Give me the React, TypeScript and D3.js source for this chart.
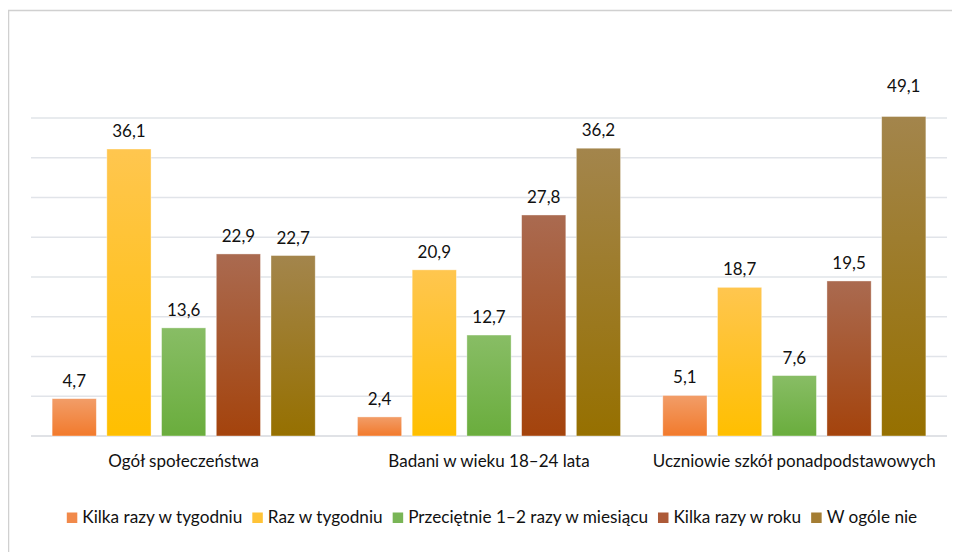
import { useRef, useEffect } from "react";
import * as d3 from "d3";

// categories (groups along x)
const categories = [
  "Ogół społeczeństwa",
  "Badani w wieku 18–24 lata",
  "Uczniowie szkół ponadpodstawowych",
];

// series names (legend order)
const seriesNames = [
  "Kilka razy w tygodniu",
  "Raz w tygodniu",
  "Przeciętnie 1–2 razy w miesiącu",
  "Kilka razy w roku",
  "W ogóle nie",
];

// values per series, one per category
const kilkaRazyTydzien = [4.7, 2.4, 5.1];
const razTydzien = [36.1, 20.9, 18.7];
const miesiac = [13.6, 12.7, 7.6];
const kilkaRazyRok = [22.9, 27.8, 19.5];
const wOgoleNie = [22.7, 36.2, 49.1];

const seriesValues = [kilkaRazyTydzien, razTydzien, miesiac, kilkaRazyRok, wOgoleNie];

// y axis max and gridline ticks
const yMax = 40;
const gridTicks = [0, 5, 10, 15, 20, 25, 30, 35, 40];

// gradient colours: [top, bottom], plus legend swatch
const gradTop = ["#f29d68", "#ffc64f", "#88bd65", "#aa6a50", "#a3854c"];
const gradBottom = ["#f27a2c", "#ffbf00", "#6aad3d", "#a4430c", "#967000"];
const swatch = ["#f1894a", "#ffc337", "#79b556", "#ad5a38", "#a47d33"];

const FONT = "Lato, 'Open Sans', sans-serif";
const INK = "#111";

const Chart: React.FC = () => {
  const svgRef = useRef<SVGSVGElement | null>(null);

  useEffect(() => {
    if (!svgRef.current) return;
    const root = d3.select(svgRef.current);
    root.selectAll("*").remove();

    const plot = { left: 31, right: 947, top: 118, bottom: 436 };

    // outer frame (right and bottom edges run off the picture)
    root
      .append("rect")
      .attr("x", 8.5)
      .attr("y", 10.5)
      .attr("width", 1000)
      .attr("height", 600)
      .attr("fill", "#fff")
      .attr("stroke", "#d0d0d0")
      .attr("stroke-width", 1.5);

    const defs = root.append("defs");
    seriesNames.forEach((_, i) => {
      const g = defs
        .append("linearGradient")
        .attr("id", `grad${i}`)
        .attr("x1", 0)
        .attr("y1", 0)
        .attr("x2", 0)
        .attr("y2", 1);
      g.append("stop").attr("offset", "0%").attr("stop-color", gradTop[i]);
      g.append("stop").attr("offset", "100%").attr("stop-color", gradBottom[i]);
    });

    const x0 = d3
      .scaleBand<string>()
      .domain(categories)
      .range([plot.left, plot.right])
      .padding(0);

    const x1 = d3
      .scaleBand<number>()
      .domain(d3.range(seriesNames.length))
      .range([0, x0.bandwidth()])
      .paddingInner(0.192)
      .paddingOuter(0.386);

    const y = d3
      .scaleLinear()
      .domain([0, yMax])
      .range([plot.bottom, plot.top]);

    // gridlines
    root
      .append("g")
      .selectAll("line")
      .data(gridTicks)
      .join("line")
      .attr("x1", plot.left)
      .attr("x2", plot.right)
      .attr("y1", (d) => y(d))
      .attr("y2", (d) => y(d))
      .attr("stroke", (d) => (d === 0 ? "#d6d9de" : "#e1e4e9"))
      .attr("stroke-width", 1.5);

    // bars
    const groups = root
      .append("g")
      .selectAll("g")
      .data(categories)
      .join("g")
      .attr("transform", (c) => `translate(${x0(c)},0)`);

    groups.each(function (c, ci) {
      const g = d3.select(this);
      seriesValues.forEach((vals, si) => {
        const v = vals[ci];
        const clipped = v > yMax;
        const top = clipped ? y(yMax) - 1.5 : y(v);
        g.append("rect")
          .attr("x", x1(si)!)
          .attr("y", top)
          .attr("width", x1.bandwidth())
          .attr("height", plot.bottom - top)
          .attr("fill", `url(#grad${si})`)
          .attr("stroke", "rgba(255,255,255,0.5)")
          .attr("stroke-width", 0.75);

        g.append("text")
          .attr("x", x1(si)! + x1.bandwidth() / 2)
          .attr("y", clipped ? y(yMax) - 26 : top - 12)
          .attr("text-anchor", "middle")
          .attr("font-family", FONT)
          .attr("font-size", 17)
          .attr("fill", INK)
          .text(d3.format(".1f")(v).replace(".", ","));
      });
    });

    // category labels
    root
      .append("g")
      .selectAll("text")
      .data(categories)
      .join("text")
      .attr("x", (c) => x0(c)! + x0.bandwidth() / 2)
      .attr("y", 467)
      .attr("text-anchor", "middle")
      .attr("font-family", FONT)
      .attr("font-size", 17)
      .attr("fill", INK)
      .text((c) => c);

    // legend, measured then centred
    const legend = root.append("g");
    const box = 10.5;
    const gapText = 5;
    const gapItem = 10;
    let cursor = 0;
    seriesNames.forEach((name, i) => {
      const item = legend.append("g").attr("transform", `translate(${cursor},0)`);
      item
        .append("rect")
        .attr("x", 0)
        .attr("y", -box)
        .attr("width", box)
        .attr("height", box)
        .attr("fill", swatch[i]);
      const t = item
        .append("text")
        .attr("x", box + gapText)
        .attr("y", 0)
        .attr("font-family", FONT)
        .attr("font-size", 17.2)
        .attr("fill", INK)
        .text(name);
      const w = (t.node() as SVGTextElement).getComputedTextLength();
      cursor += box + gapText + w + gapItem;
    });
    const total = cursor - gapItem;
    legend.attr("transform", `translate(${492 - total / 2},523)`);
  }, []);

  return <svg ref={svgRef} width={960} height={560} style={{ display: "block" }} />;
};

const App: React.FC = () => {
  return (
    <div style={{ margin: -8, width: 960, height: 560, overflow: "hidden", background: "#fff" }}>
      <Chart />
    </div>
  );
};

export default App;
